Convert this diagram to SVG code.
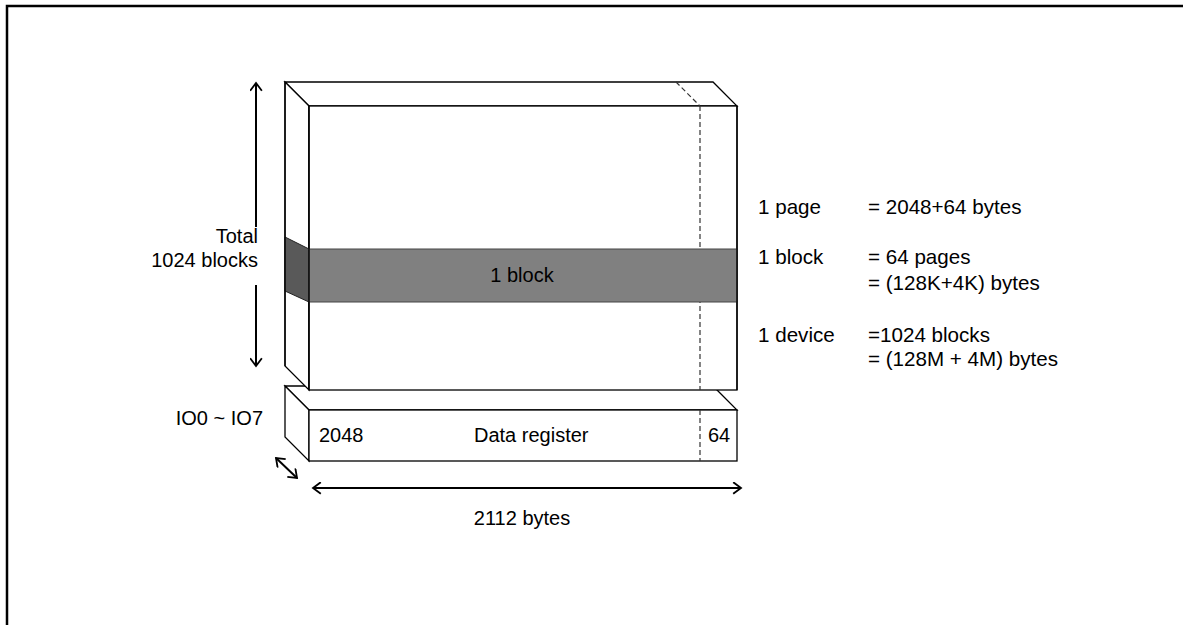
<svg xmlns="http://www.w3.org/2000/svg" width="1183" height="625" viewBox="0 0 1183 625">
<style>
.t{font-family:"Liberation Sans",Arial,sans-serif;font-size:20px;fill:#000}
.r{font-size:20.6px}
.s{fill:#fff;stroke:#000;stroke-width:1.3}
.d{fill:none;stroke:#333;stroke-width:1.2;stroke-dasharray:5,3}
.a{fill:none;stroke:#000;stroke-width:2}
</style>
<defs>
<marker id="ah" viewBox="0 0 10 10" refX="8" refY="5" markerWidth="6.5" markerHeight="6.5" orient="auto-start-reverse" markerUnits="strokeWidth">
<path d="M2,0.5 L8,5 L2,9.5" fill="none" stroke="#000" stroke-width="1.4"/>
</marker>
</defs>
<rect x="0" y="0" width="1183" height="625" fill="#fff"/>
<path d="M7,640 L7,6 L1190,6" fill="none" stroke="#000" stroke-width="2.5"/>
<g id="register">
<polygon class="s" points="285,386 713,386 737,410 309,410"/>
<polygon class="s" points="285,386 309,410 309,461 285,437"/>
<rect class="s" x="309" y="410" width="428" height="51"/>
<line class="d" x1="700" y1="410" x2="700" y2="461"/>
<text class="t" x="319" y="442">2048</text>
<text class="t" x="474" y="442">Data register</text>
<text class="t" x="708" y="442">64</text>
</g>
<g id="device">
<polygon class="s" points="285,82 713,82 737,106 309,106"/>
<polygon class="s" points="285,82 309,106 309,390 285,366"/>
<rect class="s" x="309" y="106" width="428" height="284"/>
<line class="d" x1="676" y1="82" x2="700" y2="106"/>
<line class="d" x1="700" y1="106" x2="700" y2="390"/>
</g>
<g id="block">
<polygon points="285,237 309,249 309,302 285,291" fill="#595959" stroke="#222" stroke-width="1"/>
<rect x="309" y="249" width="428" height="53" fill="#808080" stroke="#444" stroke-width="1"/>
<line x1="285" y1="82" x2="285" y2="366" stroke="#000" stroke-width="1.3"/>
<line x1="309" y1="106" x2="309" y2="390" stroke="#000" stroke-width="1.3"/>
<line x1="737" y1="106" x2="737" y2="390" stroke="#000" stroke-width="1.3"/>
<text class="t" x="522" y="282" text-anchor="middle">1 block</text>
</g>
<g id="labels">
<text class="t" x="258" y="243" text-anchor="end">Total</text>
<text class="t" x="258" y="267" text-anchor="end">1024 blocks</text>
<text class="t" x="263" y="425" text-anchor="end">IO0 ~ IO7</text>
<text class="t" x="522" y="525" text-anchor="middle">2112 bytes</text>
<text class="t r" x="758" y="214">1 page</text>
<text class="t r" x="868" y="214">= 2048+64 bytes</text>
<text class="t r" x="758" y="264">1 block</text>
<text class="t r" x="868" y="264">= 64 pages</text>
<text class="t r" x="868" y="290">= (128K+4K) bytes</text>
<text class="t r" x="758" y="342">1 device</text>
<text class="t r" x="868" y="342">=1024 blocks</text>
<text class="t r" x="868" y="366">= (128M + 4M) bytes</text>
</g>
<g id="connectors">
<line class="a" x1="256" y1="227" x2="256" y2="83" marker-end="url(#ah)"/>
<line class="a" x1="256" y1="285" x2="256" y2="366" marker-end="url(#ah)"/>
<line class="a" x1="276" y1="458" x2="297" y2="478" marker-start="url(#ah)" marker-end="url(#ah)"/>
<line class="a" x1="313" y1="488" x2="741" y2="488" marker-start="url(#ah)" marker-end="url(#ah)"/>
</g>
</svg>
